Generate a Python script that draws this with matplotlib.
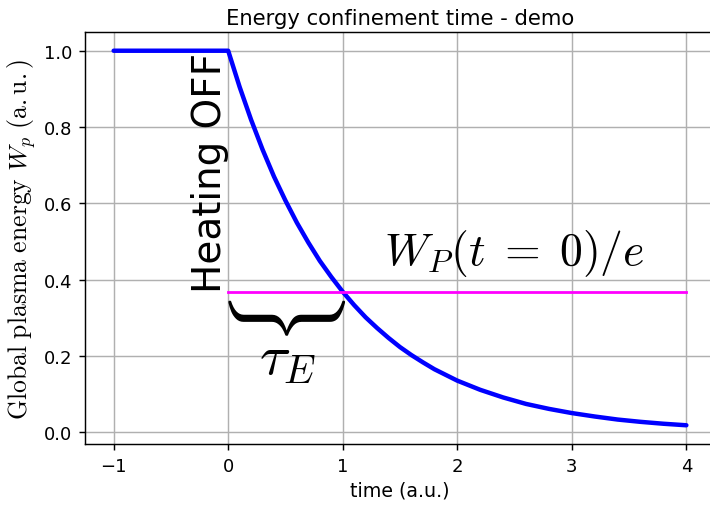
import matplotlib
matplotlib.use('Agg')
import matplotlib.pyplot as plt

plt.rcParams['mathtext.fontset'] = 'cm'

# Data
time_before = [-1.0, 0.0]
energy_before = [1.0, 1.0]
time_after = [0.0, 0.1, 0.2, 0.3, 0.4, 0.5, 0.6, 0.7, 0.8, 0.9, 1.0, 1.1, 1.2, 1.3,
              1.4, 1.5, 1.6, 1.7, 1.8, 1.9, 2.0, 2.2, 2.4, 2.6, 2.8, 3.0, 3.2, 3.4,
              3.6, 3.8, 4.0]
energy_after = [1.000, 0.905, 0.819, 0.741, 0.670, 0.607, 0.549, 0.497, 0.449, 0.407,
                0.368, 0.333, 0.301, 0.273, 0.247, 0.223, 0.202, 0.183, 0.165, 0.150,
                0.135, 0.111, 0.091, 0.074, 0.061, 0.050, 0.041, 0.033, 0.027, 0.022,
                0.018]
ref_time = [0.0, 4.0]
ref_level = [0.368, 0.368]

DPI = 100
SCALE = 1.3

fig = plt.figure(figsize=(7.10, 5.06), dpi=DPI)
ax = fig.add_axes([85 / 710, 61 / 506, 630 / 710, 412 / 506])

ax.plot(time_before + time_after[1:], energy_before + energy_after[1:],
        color='b', lw=3.2, solid_capstyle='round')
ax.plot(ref_time, ref_level, color='magenta', lw=2)

ax.text(0.005, 0.682, 'Heating OFF', rotation=90, ha='right', va='center',
        fontsize=28)
ax.text(1.36, 0.47, r'$W_P(t\;=\;0)/e$', ha='left', va='center', fontsize=33)
ax.text(0.5, 0.318, r'$\}$', rotation=-90, ha='center', va='center',
        fontsize=70)
ax.text(0.52, 0.196, r'$\tau_E$', ha='center', va='center', fontsize=41)

ax.set_title('Energy confinement time - demo', fontsize=15.2)
ax.set_xlabel('time (a.u.)', fontsize=10.5 * SCALE)
ax.set_ylabel(r'$\mathrm{Global\ plasma\ energy}\ W_p\ \mathrm{(a.u.)}$',
              fontsize=18.5)
ax.tick_params(labelsize=10 * SCALE, length=3.5 * SCALE, width=0.8 * SCALE,
               pad=3.5 * SCALE)
for spine in ax.spines.values():
    spine.set_linewidth(0.8 * SCALE)
ax.set_xlim(-1.25, 4.25)
ax.grid(True, lw=0.8 * SCALE)

fig.savefig('out.png', dpi=DPI)
